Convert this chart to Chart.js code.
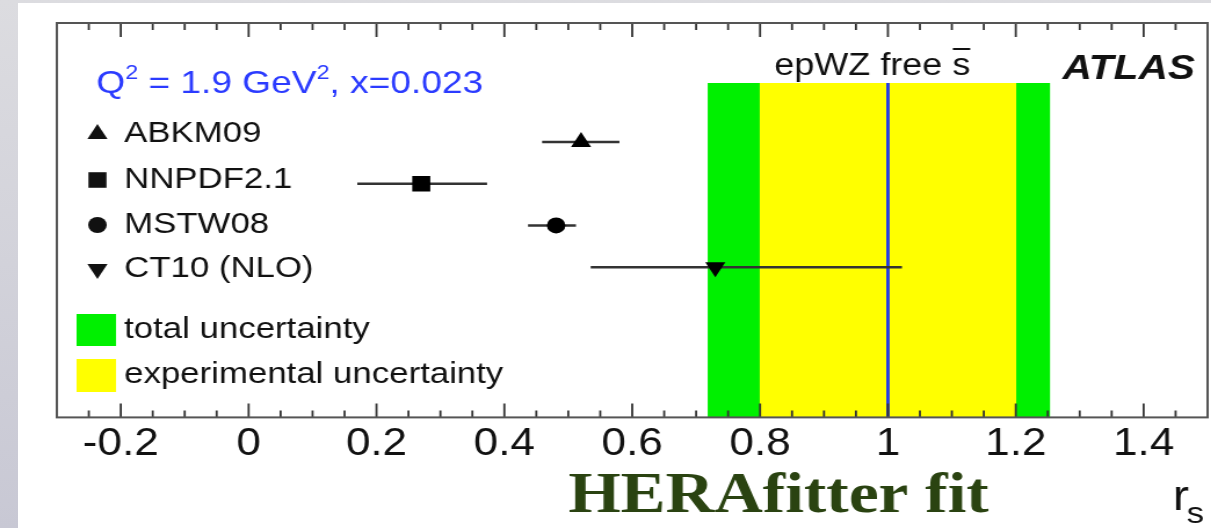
<!DOCTYPE html>
<html>
<head>
<meta charset="utf-8">
<script src="https://cdn.jsdelivr.net/npm/chart.js@4.4.1/dist/chart.umd.min.js"></script>
<style>
html, body { margin: 0; padding: 0; }
body { width: 1211px; height: 528px; overflow: hidden; position: relative;
       background: linear-gradient(#dcdce0, #c8c8d4); }
#panel { position: absolute; left: 18px; top: 3px; right: 0; bottom: 0; background: #fff; }
#wrap { position: absolute; left: 0; top: 0; width: 1044px; height: 528px;
        transform: scaleX(1.16); transform-origin: 0 0; }
</style>
</head>
<body>
<div id="panel"></div>
<div id="wrap"><canvas id="rsChart" width="1044" height="528"></canvas></div>
<script>
// r_s = 0.5(s+sbar)/dbar, PDF predictions vs ATLAS epWZ fit
const pdfSets = ['ABKM09', 'NNPDF2.1', 'MSTW08', 'CT10 (NLO)'];
const rsCentral = [0.52, 0.27, 0.481, 0.73];
const rsLow = [0.459, 0.17, 0.437, 0.535];
const rsHigh = [0.58, 0.373, 0.512, 1.022];
const pdfMarkers = ['triangle', 'rect', 'circle', 'triangle'];
const fitCentral = 1.0;
const totalBand = [0.718, 1.254];
const expBand = [0.799, 1.201];
const tickValues = [-0.2, 0, 0.2, 0.4, 0.6, 0.8, 1, 1.2, 1.4];

const yMin = -2.6, yMax = 6.85, bandTop = 5.41;
const rowOf = i => pdfSets.length - i;
const SANS = '"Liberation Sans", Arial, Helvetica, sans-serif';

function marker(ctx, style, x, y, r, down) {
    ctx.beginPath();
    if (style === 'rect') {
        const h = r * Math.SQRT1_2;
        ctx.rect(x - h, y - h, 2 * h, 2 * h);
    } else if (style === 'circle') {
        ctx.arc(x, y, r, 0, Math.PI * 2);
    } else {
        const s = down ? -1 : 1;
        ctx.moveTo(x, y - s * r);
        ctx.lineTo(x + r * 0.866, y + s * r * 0.5);
        ctx.lineTo(x - r * 0.866, y + s * r * 0.5);
        ctx.closePath();
    }
    ctx.fill();
}

const decor = {
    id: 'decor',
    afterDatasetsDraw(chart) {
        const ctx = chart.ctx, a = chart.chartArea, xs = chart.scales.x;
        ctx.save();
        // inward ticks, top and bottom
        ctx.strokeStyle = '#333';
        ctx.lineWidth = 1.8;
        for (let k = -5; k < 30; k++) {
            const px = xs.getPixelForValue(k * 0.05);
            const len = k % 4 === 0 ? 14 : 7;
            ctx.beginPath();
            ctx.moveTo(px, a.bottom); ctx.lineTo(px, a.bottom - len);
            ctx.moveTo(px, a.top); ctx.lineTo(px, a.top + len);
            ctx.stroke();
        }
        // frame
        ctx.strokeStyle = '#555';
        ctx.lineWidth = 2;
        ctx.strokeRect(a.left, a.top, a.right - a.left, a.bottom - a.top);

        // header text
        ctx.fillStyle = '#2b3bff';
        ctx.textBaseline = 'alphabetic';
        ctx.textAlign = 'left';
        let x = a.left + 34;
        const yb = a.top + 70;
        const part = (t, size, dy) => {
            ctx.font = size + 'px ' + SANS;
            ctx.fillText(t, x, yb + dy);
            x += ctx.measureText(t).width;
        };
        part('Q', 32, 0); part('2', 20, -14); part(' = 1.9 GeV', 32, 0);
        part('2', 20, -14); part(', x=0.023', 32, 0);

        // legend entries
        ctx.fillStyle = '#111';
        ctx.font = '30px ' + SANS;
        ctx.textBaseline = 'middle';
        const rowsY = [111, 157, 202, 246];
        const sizes = [10, 11, 8, 10];
        pdfSets.forEach((name, i) => {
            const cy = a.top + rowsY[i];
            marker(ctx, pdfMarkers[i], a.left + 35, cy, sizes[i], i === 3);
            ctx.fillText(name, a.left + 58, cy);
        });
        ctx.fillStyle = '#00f000';
        ctx.fillRect(a.left + 17, a.top + 291, 34, 32);
        ctx.fillStyle = '#ffff00';
        ctx.fillRect(a.left + 17, a.top + 336, 34, 33);
        ctx.fillStyle = '#111';
        ctx.fillText('total uncertainty', a.left + 58, a.top + 307);
        ctx.fillText('experimental uncertainty', a.left + 58, a.top + 352);

        // fit label
        ctx.textBaseline = 'alphabetic';
        ctx.textAlign = 'center';
        ctx.font = '31px ' + SANS;
        const lx = a.left + 703, lb = a.top + 52;
        ctx.fillText('epWZ free s', lx, lb);
        const w = ctx.measureText('epWZ free s').width;
        ctx.fillRect(lx + w / 2 - 15, lb - 27, 15, 2);
        ctx.textAlign = 'right';
        ctx.font = 'italic bold 35px ' + SANS;
        ctx.fillText('ATLAS', a.right - 11, a.top + 56);

        // axis title r_s
        ctx.textAlign = 'left';
        ctx.font = '42px ' + SANS;
        ctx.fillText('r', 1011, 510);
        ctx.font = '30px ' + SANS;
        ctx.fillText('s', 1023, 523);

        // overlay caption
        ctx.fillStyle = '#2a4311';
        ctx.font = 'bold 58px "Liberation Serif", "Times New Roman", serif';
        ctx.fillText('HERAfitter fit', 490, 512);
        ctx.restore();
    }
};

const datasets = [
    { type: 'line', order: 10, data: totalBand.map(x => ({ x, y: bandTop })), fill: 'start',
      backgroundColor: '#00f000', borderWidth: 0, pointRadius: 0 },
    { type: 'line', order: 9, data: expBand.map(x => ({ x, y: bandTop })), fill: 'start',
      backgroundColor: '#ffff00', borderWidth: 0, pointRadius: 0 },
    { type: 'line', order: 8, data: [{ x: fitCentral, y: bandTop }, { x: fitCentral, y: yMin }],
      borderColor: '#1d36f0', borderWidth: 2.8, pointRadius: 0, fill: false }
];
pdfSets.forEach((name, i) => {
    datasets.push({
        type: 'line', order: 5, label: name,
        data: [{ x: rsLow[i], y: rowOf(i) }, { x: rsHigh[i], y: rowOf(i) }],
        borderColor: '#333', borderWidth: 2.5, pointRadius: 0, fill: false
    });
});
datasets.push({
    type: 'scatter', order: 1, label: 'central',
    data: rsCentral.map((x, i) => ({ x, y: rowOf(i) })),
    pointStyle: pdfMarkers,
    rotation: [0, 0, 0, 180],
    pointRadius: [10, 11, 8, 10],
    backgroundColor: '#000', borderColor: '#000', borderWidth: 0
});

const ctx = document.getElementById('rsChart').getContext('2d');
const rsChart = new Chart(ctx, {
    type: 'scatter',
    data: { datasets },
    plugins: [decor],
    options: {
        responsive: false,
        animation: false,
        events: [],
        layout: { autoPadding: false, padding: { left: 49, right: 3, top: 23, bottom: 57 } },
        plugins: { legend: { display: false }, tooltip: { enabled: false } },
        scales: {
            x: {
                type: 'linear', min: -0.3, max: 1.5,
                afterBuildTicks: axis => { axis.ticks = tickValues.map(v => ({ value: v })); },
                grid: { display: false, drawTicks: false },
                border: { display: false },
                ticks: {
                    padding: 4, autoSkip: false, maxRotation: 0,
                    color: '#111',
                    font: { family: SANS, size: 38 },
                    callback: v => String(Math.round(v * 10) / 10)
                }
            },
            y: { type: 'linear', min: yMin, max: yMax, display: false }
        }
    }
});
</script>
</body>
</html>
